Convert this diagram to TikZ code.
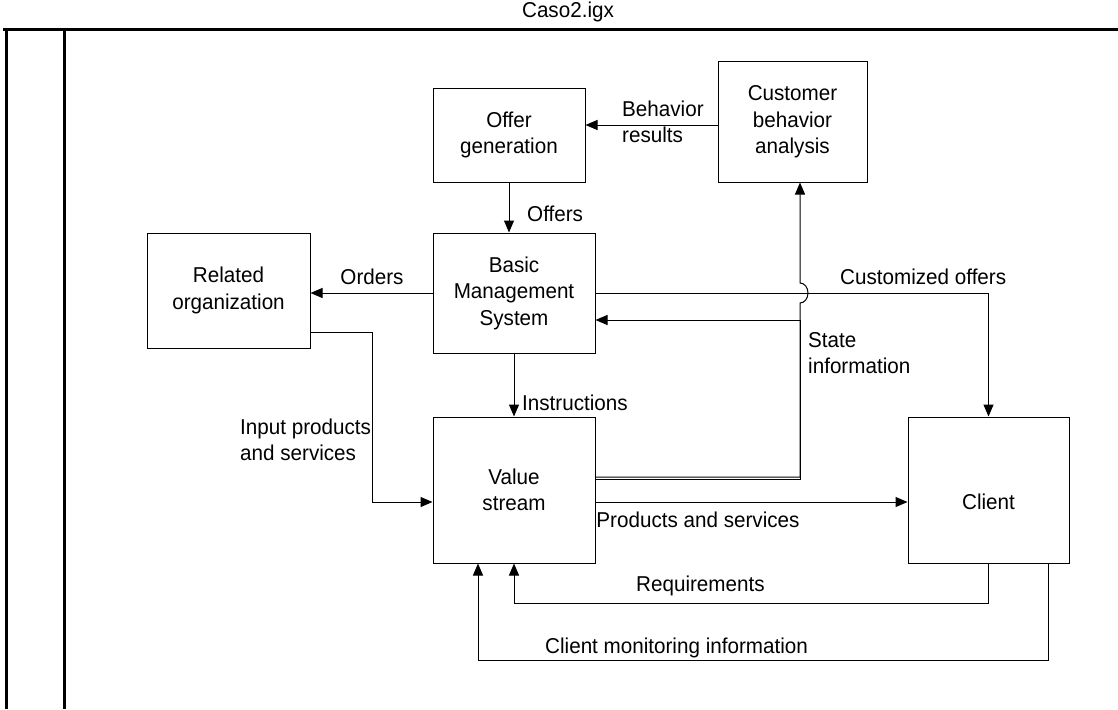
\documentclass[tikz,border=0pt]{standalone}
\usepackage{fontspec}
\setmainfont{Liberation Sans}[FakeStretch=0.96]
\usetikzlibrary{arrows.meta}
\begin{document}
\begin{tikzpicture}[x=1pt,y=-1pt,
  every node/.style={font=\fontsize{21.5}{26.5}\selectfont, inner sep=0pt},
  box/.style={draw, line width=1pt, align=center},
  conn/.style={line width=1pt},
  arr/.style={conn, -{Triangle[length=12pt,width=10pt]}},
  lbl/.style={align=left, anchor=west},
  frame/.style={line width=3pt}]
\useasboundingbox (0,0) rectangle (1118,709);
% frame
\draw[frame] (3,30) -- (1118,30);
\draw[frame] (6,30) -- (6,709);
\draw[frame] (64,30) -- (64,709);
\node (title) at (568,12) {Caso2.igx};
% boxes
\node[box, minimum width=152pt, minimum height=94pt] (og) at (509,135) {Offer\\generation};
\node[box, minimum width=149pt, minimum height=120pt] (cba) at (792.5,122) {Customer\\behavior\\analysis};
\node[box, minimum width=163pt, minimum height=115pt] (ro) at (228.5,290.5) {Related\\organization};
\node[box, minimum width=162pt, minimum height=120pt] (bms) at (514,293) {Basic\\Management\\System};
\node[box, minimum width=162pt, minimum height=146pt] (vs) at (514,490) {Value\\stream};
\node[box, minimum width=161pt, minimum height=146pt] (cl) at (988.5,490) {};
\node (cltxt) at (988.5,502) {Client};
% helper coordinates
\coordinate (hopb) at (800,303);
\coordinate (bmsin) at ([yshift=-27pt]bms.east);
\coordinate (vsin) at ([yshift=-12pt]vs.west);
% connectors
\draw[arr] ([yshift=-3pt]cba.west) -- ([yshift=10pt]og.east);
\draw[arr] (og.south) -- (og.south |- bms.north);
\draw[arr] (bms.west) -- (ro.east |- bms.west);
\draw[arr] (bms.east) -| (cl.north);
\draw[arr] ([yshift=13pt]vs.east) -| (hopb)
   arc[start angle=-90, end angle=90, x radius=8pt, y radius=10pt]
   -- (cba.south -| hopb);
\draw[arr] ([yshift=11pt]vs.east) -| (hopb |- bmsin) -- (bmsin);
\draw[arr] (bms.south) -- (vs.north);
\draw[arr] ([yshift=-41.5pt]ro.east) -- ++(62,0) |- (vsin);
\draw[arr] ([yshift=-12pt]vs.east) -- ([yshift=-12pt]cl.west);
\draw[arr] (cl.south) -- ++(0,40) -| (vs.south);
\draw[arr] ([xshift=60pt]cl.south) -- ++(0,97) -| ([xshift=-36pt]vs.south);
% labels
\node[lbl] (lbr) at (622,122) {Behavior\\results};
\node[lbl] (lof) at (527,214) {Offers};
\node (lor) at (372,277) {Orders};
\node[lbl] (lco) at (840,277) {Customized offers};
\node[lbl] (lsi) at (808,353) {State\\information};
\node[lbl] (lin) at (522,403) {Instructions};
\node[lbl] (lip) at (240,440) {Input products\\and services};
\node (lps) at (698,520) {Products and services};
\node[lbl] (lrq) at (636,586) {Requirements};
\node[lbl] (lcm) at (545,648) {Client monitoring information};
\end{tikzpicture}
\end{document}
